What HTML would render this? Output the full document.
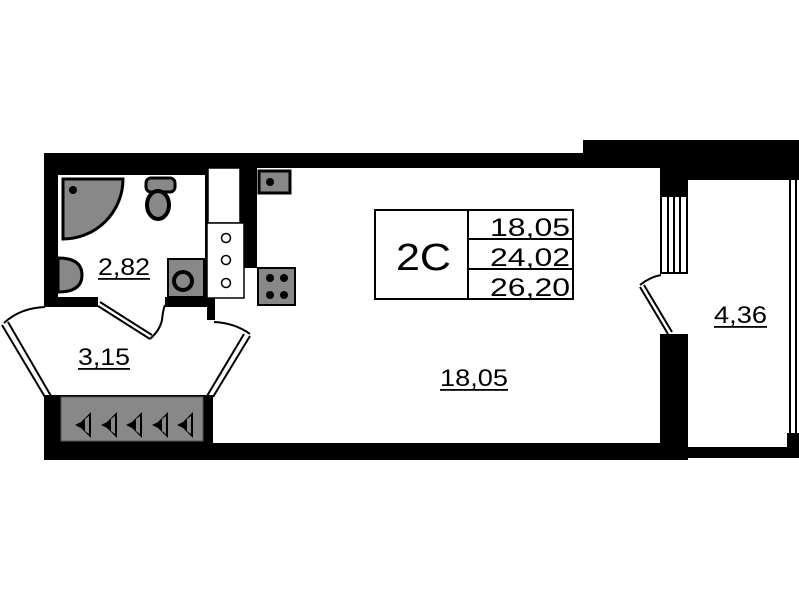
<!DOCTYPE html>
<html><head><meta charset="utf-8"><style>
html,body{margin:0;padding:0;background:#fff;width:799px;height:600px;overflow:hidden}
text{font-family:"Liberation Sans",sans-serif;fill:#000}
</style></head><body>
<svg width="799" height="600" viewBox="0 0 799 600" xmlns="http://www.w3.org/2000/svg">
<rect x="44" y="153" width="540" height="15" fill="#000"/>
<rect x="44" y="153" width="14" height="154" fill="#000"/>
<rect x="58" y="153" width="150" height="22" fill="#000"/>
<rect x="583" y="140" width="216" height="28" fill="#000"/>
<rect x="688" y="140" width="111" height="40" fill="#000"/>
<rect x="660" y="168" width="28" height="28" fill="#000"/>
<rect x="660" y="334" width="28" height="126" fill="#000"/>
<rect x="44" y="395" width="169" height="65" fill="#000"/>
<rect x="213" y="443" width="475" height="17" fill="#000"/>
<rect x="688" y="447" width="111" height="11" fill="#000"/>
<rect x="787" y="433" width="12" height="25" fill="#000"/>
<rect x="789" y="180" width="2" height="255" fill="#000"/>
<rect x="795" y="180" width="2" height="255" fill="#000"/>
<g fill="none" stroke="#000" stroke-width="2">
<rect x="661" y="196" width="26" height="77"/>
<line x1="668" y1="196" x2="668" y2="273"/>
<line x1="674" y1="196" x2="674" y2="273"/>
<line x1="680" y1="196" x2="680" y2="273"/>
<path d="M661 275 Q650 277 640 285"/>
<line x1="640" y1="287" x2="668" y2="334"/>
<line x1="644" y1="285" x2="672" y2="332"/>
</g>
<rect x="205" y="168" width="4" height="130" fill="#000"/>
<rect x="240" y="168" width="17" height="100" fill="#000"/>
<rect x="44" y="297" width="54" height="10" fill="#000"/>
<rect x="165" y="297" width="50" height="10" fill="#000"/>
<rect x="207" y="297" width="8" height="23" fill="#000"/>
<rect x="208" y="168" width="32" height="55" fill="#fff" stroke="#000" stroke-width="1.5"/>
<rect x="207" y="223" width="37" height="75" fill="#fff" stroke="#000" stroke-width="1.5"/>
<g fill="#fff" stroke="#000" stroke-width="1.5">
<circle cx="226" cy="238" r="4.5"/><circle cx="226" cy="260" r="4.5"/><circle cx="226" cy="283" r="4.5"/>
</g>
<rect x="259" y="171" width="31" height="22" fill="#888" stroke="#000" stroke-width="3"/>
<circle cx="270" cy="182" r="4" fill="#000"/>
<rect x="258" y="268" width="37" height="37" fill="#888" stroke="#000" stroke-width="2"/>
<g fill="#000"><circle cx="270" cy="278" r="4"/><circle cx="284" cy="278" r="4"/><circle cx="270" cy="295" r="4"/><circle cx="284" cy="295" r="4"/></g>
<path d="M63 179 L123 179 A60 60 0 0 1 63 239 Z" fill="#888" stroke="#000" stroke-width="3"/>
<circle cx="73" cy="190" r="4" fill="#000"/>
<rect x="146" y="178" width="29" height="14" rx="5" fill="#888" stroke="#000" stroke-width="3"/>
<ellipse cx="158" cy="205" rx="11" ry="14" fill="#888" stroke="#000" stroke-width="4"/>
<path d="M58 258 Q82 258 82 275 Q82 292 58 292 Z" fill="#888" stroke="#000" stroke-width="3"/>
<rect x="168" y="259" width="36" height="38" fill="#888" stroke="#000" stroke-width="2"/>
<circle cx="183" cy="281" r="9" fill="#888" stroke="#000" stroke-width="4"/>
<g fill="none" stroke="#000" stroke-width="2">
<line x1="98" y1="306" x2="150" y2="339"/>
<line x1="100" y1="302" x2="152" y2="335"/>
<path d="M150 339 Q160 330 162 320 Q163 310 165 305"/>
</g>
<g fill="none" stroke="#000" stroke-width="2">
<path d="M45 307 Q20 308 4 323"/>
<line x1="2" y1="325" x2="45" y2="397"/>
<line x1="8" y1="322" x2="51" y2="396"/>
<path d="M214 322 Q235 323 250 334"/>
<line x1="250" y1="336" x2="213" y2="397"/>
<line x1="244" y1="334" x2="207" y2="396"/>
</g>
<rect x="61" y="397" width="142" height="44" fill="#888" stroke="#555" stroke-width="1"/>
<g fill="#000">
<path d="M75 425 l6 -3 l10 -10 l0 26 l-10 -10 z"/>
<path d="M101 425 l6 -3 l10 -10 l0 26 l-10 -10 z"/>
<path d="M126 425 l6 -3 l10 -10 l0 26 l-10 -10 z"/>
<path d="M152 425 l6 -3 l10 -10 l0 26 l-10 -10 z"/>
<path d="M177 425 l6 -3 l10 -10 l0 26 l-10 -10 z"/>
</g>
<g fill="#888"><path d="M85 419 l4 -3 l0 18 l-4 -3z"/><path d="M111 419 l4 -3 l0 18 l-4 -3z"/><path d="M136 419 l4 -3 l0 18 l-4 -3z"/><path d="M162 419 l4 -3 l0 18 l-4 -3z"/><path d="M187 419 l4 -3 l0 18 l-4 -3z"/></g>
<g fill="none" stroke="#000" stroke-width="2">
<rect x="375" y="210" width="198" height="89"/>
<line x1="468" y1="210" x2="468" y2="299"/>
<line x1="468" y1="239" x2="573" y2="239"/>
<line x1="468" y1="269" x2="573" y2="269"/>
</g>
<text x="396" y="270" font-size="38" textLength="55" lengthAdjust="spacingAndGlyphs">2С</text>
<text x="490" y="236" font-size="25" textLength="80" lengthAdjust="spacingAndGlyphs">18,05</text>
<text x="490" y="266" font-size="25" textLength="80" lengthAdjust="spacingAndGlyphs">24,02</text>
<text x="490" y="296" font-size="25" textLength="80" lengthAdjust="spacingAndGlyphs">26,20</text>
<text x="98" y="275" font-size="24" textLength="52" lengthAdjust="spacingAndGlyphs">2,82</text><rect x="98" y="278" width="52" height="1.8" fill="#000"/>
<text x="78" y="365" font-size="24" textLength="52" lengthAdjust="spacingAndGlyphs">3,15</text><rect x="78" y="368" width="52" height="1.8" fill="#000"/>
<text x="440" y="386" font-size="24" textLength="68" lengthAdjust="spacingAndGlyphs">18,05</text><rect x="440" y="389" width="68" height="1.8" fill="#000"/>
<text x="714" y="323" font-size="24" textLength="53" lengthAdjust="spacingAndGlyphs">4,36</text><rect x="714" y="326" width="53" height="1.8" fill="#000"/>
</svg>
</body></html>
